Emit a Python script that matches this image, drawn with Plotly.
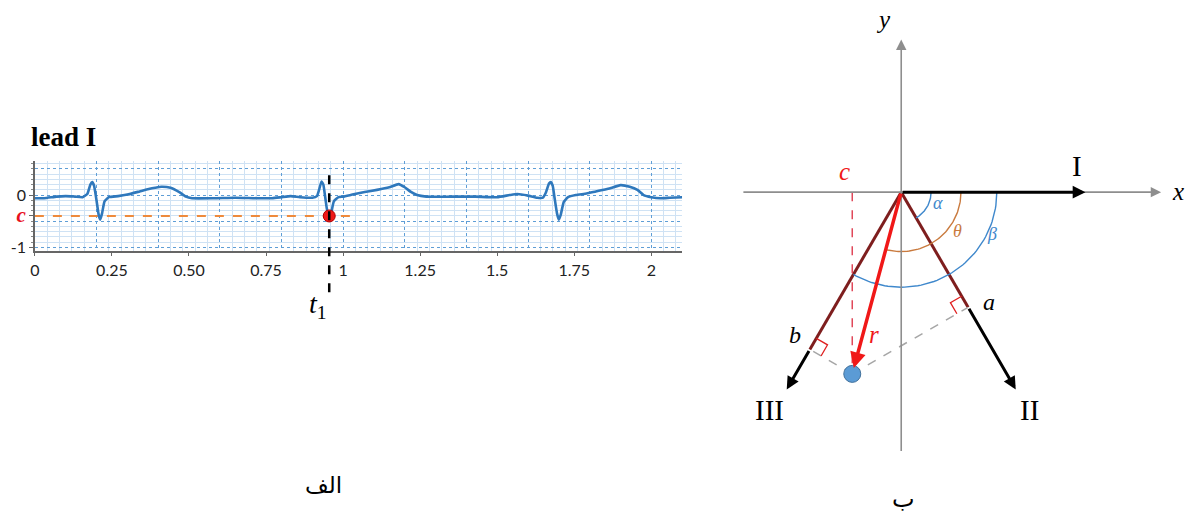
import math
import plotly.graph_objects as go

# ---------------- data ----------------
# ECG lead I (time in s, amplitude)
ecg_t = [0.000, 0.030, 0.070, 0.100, 0.130, 0.155, 0.170, 0.180, 0.186, 0.192,
         0.200, 0.207, 0.212, 0.218, 0.226, 0.240, 0.270, 0.300, 0.340, 0.380,
         0.410, 0.440, 0.470, 0.490, 0.510, 0.580, 0.650, 0.720, 0.770, 0.800,
         0.830, 0.860, 0.900, 0.915, 0.922, 0.930, 0.936, 0.941, 0.947, 0.953,
         0.958, 0.963, 0.970, 0.985, 1.000, 1.030, 1.070, 1.110, 1.150, 1.180,
         1.200, 1.220, 1.240, 1.270, 1.350, 1.430, 1.500, 1.540, 1.565, 1.600,
         1.630, 1.648, 1.658, 1.668, 1.674, 1.680, 1.686, 1.694, 1.700, 1.706,
         1.716, 1.730, 1.755, 1.790, 1.820, 1.860, 1.900, 1.930, 1.955, 1.975,
         2.000, 2.030, 2.060, 2.100]
ecg_v = [-0.06, -0.06, -0.03, -0.02, -0.03, -0.04, 0.02, 0.20, 0.25, 0.18,
         -0.10, -0.38, -0.47, -0.35, -0.12, -0.04, -0.02, 0.01, 0.07, 0.13,
         0.16, 0.14, 0.05, -0.03, -0.06, -0.06, -0.05, -0.06, -0.06, -0.04,
         -0.02, -0.04, -0.05, -0.02, 0.10, 0.26, 0.20, 0.00, -0.25, -0.40,
         -0.46, -0.30, -0.12, -0.04, -0.03, 0.01, 0.06, 0.10, 0.15, 0.21,
         0.15, 0.06, 0.00, -0.03, -0.03, -0.03, -0.04, 0.00, 0.02, -0.01,
         -0.05, -0.05, 0.05, 0.22, 0.25, 0.18, -0.05, -0.35, -0.47, -0.38,
         -0.13, -0.04, 0.00, 0.03, 0.07, 0.12, 0.19, 0.16, 0.10, 0.00,
         -0.04, -0.06, -0.05, -0.04]
xtick_vals = [0, 0.25, 0.5, 0.75, 1, 1.25, 1.5, 1.75, 2]
xtick_text = ["0", "0.25", "0.50", "0.75", "1", "1.25", "1.5", "1.75", "2"]
ytick_vals = [-1, 0]
ytick_text = ["-1", "0"]
t1 = 0.955
c_val = -0.40
c_line_end = 1.035

# Vector diagram (angles in degrees, measured clockwise from +x)
lead_names = ["I", "II", "III"]
lead_angles = [0, 60, 120]
lead_lengths = [1.85, 2.3, 2.3]
r_mag = 1.9
r_angle = 105
foot_names = ["a", "b"]       # projections of r on lead II and III
arc_names = ["α", "θ", "β"]
arc_end_angles = [60, 105, 120]
arc_radii = [0.30, 0.60, 0.96]

# ---------------- styling ----------------
W, H = 1190, 518
ECG_BLUE = "#2F78BC"
GRID_MAJ = "#5F9ED6"
GRID_MIN = "#CFE2F4"
ORANGE = "#EE8A3C"
RED = "#F01818"
MAROON = "#7E1E1E"
GRAY = "#8E8E8E"
ARC_BLUE = "#3F88CC"
ARC_ORANGE = "#C97A3E"
SERIF = "Liberation Serif"
SANS = "Lato"


def unit(deg):
    a = math.radians(deg)
    return math.cos(a), -math.sin(a)


fig = go.Figure()

# ---------- left panel: ECG ----------
fig.add_trace(go.Scatter(x=[0], y=[0], xaxis="x3", yaxis="y3", mode="markers",
                         marker=dict(opacity=0), hoverinfo="skip", showlegend=False))
fig.add_trace(go.Scatter(x=[0, c_line_end], y=[c_val, c_val], mode="lines",
                         line=dict(color=ORANGE, width=2, dash="dash"),
                         showlegend=False, hoverinfo="skip"))
fig.add_trace(go.Scatter(x=ecg_t, y=ecg_v, mode="lines",
                         line=dict(color=ECG_BLUE, width=2.6, shape="spline", smoothing=0.4),
                         showlegend=False))
fig.add_trace(go.Scatter(x=[t1], y=[c_val], mode="markers",
                         marker=dict(color=RED, size=12, line=dict(color="#B00000", width=1)),
                         showlegend=False))

y_top_px, y_bot_px = 163, 253
ecg_dom_y = [(H - y_bot_px) / H, (H - y_top_px) / H]
ecg_dom_x = [30 / W, 680 / W]
x_rng = [0, 2.1]
y_rng = [-1.063, 0.645]

# dashed t1 marker (from inside the plot to below the axis)
fig.add_shape(type="line", xref="x", yref="paper", x0=t1, x1=t1,
              y0=(H - 177) / H, y1=(H - 300) / H,
              line=dict(color="black", width=2.5, dash="dash"))

# ---------- right panel: vector diagram ----------
rx, ry = r_mag * unit(r_angle)[0], r_mag * unit(r_angle)[1]

# gray axes
fig.add_annotation(x=2.61, y=0, ax=-1.6, ay=0, xref="x2", yref="y2", axref="x2", ayref="y2",
                   text="", showarrow=True, arrowhead=2, arrowsize=1.3, arrowwidth=1.6,
                   arrowcolor=GRAY)
fig.add_annotation(x=0, y=1.54, ax=0, ay=-2.63, xref="x2", yref="y2", axref="x2", ayref="y2",
                   text="", showarrow=True, arrowhead=2, arrowsize=1.3, arrowwidth=1.6,
                   arrowcolor=GRAY)

feet = []
for name, ang, ln in zip(lead_names, lead_angles, lead_lengths):
    ux, uy = unit(ang)
    proj = rx * ux + ry * uy
    tipx, tipy = ln * ux, ln * uy
    if proj > 0:
        fx, fy = proj * ux, proj * uy
        feet.append((fx, fy, ux, uy))
        fig.add_trace(go.Scatter(x=[0, fx], y=[0, fy], xaxis="x2", yaxis="y2", mode="lines",
                                 line=dict(color=MAROON, width=3), showlegend=False,
                                 hoverinfo="skip"))
        sx, sy = fx, fy
    else:
        sx, sy = 0, 0
    fig.add_annotation(x=tipx, y=tipy, ax=sx, ay=sy, xref="x2", yref="y2", axref="x2",
                       ayref="y2", text="", showarrow=True, arrowhead=2, arrowsize=0.85,
                       arrowwidth=3, arrowcolor="black")

# projection on lead I (c) : red dashed vertical
ux0, uy0 = unit(lead_angles[0])
c_proj = rx * ux0 + ry * uy0
fig.add_trace(go.Scatter(x=[c_proj, rx], y=[0, ry], xaxis="x2", yaxis="y2", mode="lines",
                         line=dict(color="#E0485A", width=1.5, dash="dash"),
                         showlegend=False, hoverinfo="skip"))

# gray dashed perpendiculars and right-angle marks
s = 0.13
for (fx, fy, ux, uy) in feet:
    fig.add_trace(go.Scatter(x=[rx, fx], y=[ry, fy], xaxis="x2", yaxis="y2", mode="lines",
                             line=dict(color="#A6A6A6", width=1.5, dash="dash"),
                             showlegend=False, hoverinfo="skip"))
    nx, ny = rx - fx, ry - fy
    nl = math.hypot(nx, ny)
    nx, ny = nx / nl, ny / nl
    sqx = [fx - s * ux, fx - s * ux + s * nx, fx + s * nx]
    sqy = [fy - s * uy, fy - s * uy + s * ny, fy + s * ny]
    fig.add_trace(go.Scatter(x=sqx, y=sqy, xaxis="x2", yaxis="y2", mode="lines",
                             line=dict(color="#E02020", width=1.3),
                             showlegend=False, hoverinfo="skip"))

# angle arcs
arc_colors = [ARC_BLUE, ARC_ORANGE, ARC_BLUE]
for rad, end, col in zip(arc_radii, arc_end_angles, arc_colors):
    n = 60
    angs = [end * i / n for i in range(n + 1)]
    fig.add_trace(go.Scatter(x=[rad * unit(a)[0] for a in angs],
                             y=[rad * unit(a)[1] for a in angs],
                             xaxis="x2", yaxis="y2", mode="lines",
                             line=dict(color=col, width=1.4),
                             showlegend=False, hoverinfo="skip"))

# r arrow and endpoint
fig.add_annotation(x=rx, y=ry, ax=0, ay=0, xref="x2", yref="y2", axref="x2", ayref="y2",
                   text="", showarrow=True, arrowhead=2, arrowsize=0.9, arrowwidth=3.5,
                   arrowcolor=RED, standoff=6)
fig.add_trace(go.Scatter(x=[rx], y=[ry], xaxis="x2", yaxis="y2", mode="markers",
                         marker=dict(color="#5B9BD5", size=17, line=dict(color="#41719C", width=1)),
                         showlegend=False))

# ---------- text labels ----------
def lab(x, y, text, size=20, color="black", family=SERIF, ref=("x2", "y2"),
        xanchor="center", yanchor="middle"):
    fig.add_annotation(x=x, y=y, xref=ref[0], yref=ref[1], text=text, showarrow=False,
                       xanchor=xanchor, yanchor=yanchor,
                       font=dict(size=size, color=color, family=family))

lead_label_offsets = [(-0.08, 0.26), (0.14, -0.21), (-0.17, -0.21)]
for name, ang, ln, off in zip(lead_names, lead_angles, lead_lengths, lead_label_offsets):
    ux, uy = unit(ang)
    lab(ln * ux + off[0], ln * uy + off[1], name, size=29)

foot_label_offsets = [(0.21, 0.05), (-0.15, 0.15)]
for (fx, fy, ux, uy), name, off in zip(feet, foot_names, foot_label_offsets):
    lab(fx + off[0], fy + off[1], "<i>" + name + "</i>", size=24)

lab(c_proj - 0.08, 0.21, "<i>c</i>", size=25, color=RED)
lab(rx + 0.22, ry + 0.40, "<i>r</i>", size=25, color=RED)
lab(2.78, 0.01, "<i>x</i>", size=25)
lab(-0.18, 1.74, "<i>y</i>", size=25)

arc_label_pos = [(0.39, 17), (0.69, 35), (1.01, 25)]
for name, col, (rad, ang) in zip(arc_names, arc_colors, arc_label_pos):
    lab(rad * unit(ang)[0], rad * unit(ang)[1], "<i>" + name + "</i>", size=18, color=col)

lab(0.02, -3.10, "ب", size=24, family="DejaVu Sans")
lab(320 / W, (H - 490) / H, "الف", size=23, family="DejaVu Sans", ref=("paper", "paper"))
lab(24 / W, (H - 138) / H, "<b>lead I</b>", size=27, family=SERIF,
    ref=("paper", "paper"), xanchor="left")
fig.add_annotation(x=t1, y=(H - 308) / H, xref="x", yref="paper",
                   text="<i>t</i><sub>1</sub>", showarrow=False, xanchor="right",
                   yanchor="middle", font=dict(size=28, color="black", family=SERIF))

# ---------- layout ----------
tickfont = dict(family=SANS, size=16, color="#222")
fig.update_layout(
    width=W, height=H, margin=dict(l=0, r=0, t=0, b=0),
    paper_bgcolor="white", plot_bgcolor="white", showlegend=False,
    xaxis=dict(domain=ecg_dom_x, range=x_rng, anchor="y", tickvals=xtick_vals,
               ticktext=xtick_text, showgrid=False, zeroline=False, showline=True,
               linecolor="#666", linewidth=1.5, ticks="outside", ticklen=4,
               tickcolor="#666", tickfont=tickfont),
    yaxis=dict(domain=ecg_dom_y, range=y_rng, anchor="x",
               tickvals=ytick_vals + [c_val],
               ticktext=ytick_text + ['<span style="font-family:Liberation Serif;font-size:21px;color:#E8101E"><b><i>c</i></b></span>'],
               showgrid=False, zeroline=False, showline=True, linecolor="#666",
               linewidth=1.5, ticks="outside", ticklen=4, tickcolor="#666",
               tickfont=tickfont,
               minor=dict(dtick=0.1, ticks="outside", ticklen=2, tickcolor="#888")),
    xaxis3=dict(overlaying="x", range=x_rng, anchor="y3", showgrid=True, dtick=0.2, tick0=0,
                gridcolor=GRID_MAJ, griddash="dot", gridwidth=1, showticklabels=False,
                ticks="", zeroline=False, showline=False,
                minor=dict(dtick=0.04, showgrid=True, gridcolor=GRID_MIN, gridwidth=1,
                           griddash="solid")),
    yaxis3=dict(overlaying="y", range=y_rng, anchor="x3", showgrid=True, dtick=0.5, tick0=0,
                gridcolor=GRID_MAJ, griddash="dot", gridwidth=1, showticklabels=False,
                ticks="", zeroline=False, showline=False,
                minor=dict(dtick=0.1, showgrid=True, gridcolor=GRID_MIN, gridwidth=1,
                           griddash="solid")),
    xaxis2=dict(domain=[730 / W, 1], range=[-1.70, 2.90], anchor="y2", visible=False),
    yaxis2=dict(domain=[0, 1], range=[-3.24, 1.94], anchor="x2", visible=False),
)

fig.write_html("out.html", config={"displayModeBar": False},
               post_script="document.body.style.margin='0';document.body.style.overflow='hidden';")
